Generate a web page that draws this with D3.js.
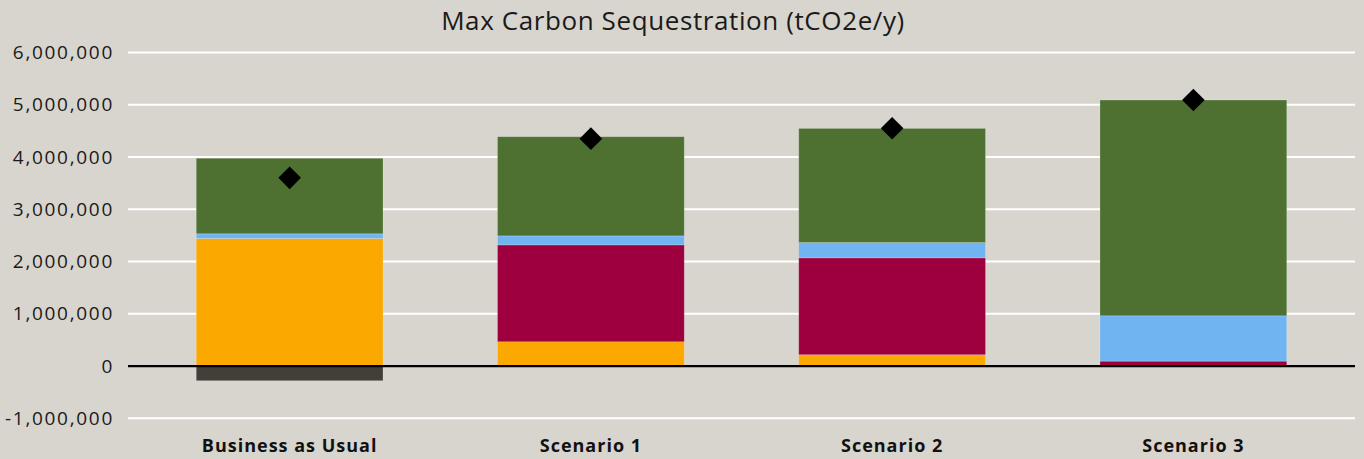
<!DOCTYPE html>
<html>
<head>
<meta charset="utf-8">
<script src="https://cdn.jsdelivr.net/npm/d3@7"></script>
<style>
  html, body { margin: 0; padding: 0; background: #d8d5ce; }
  svg { display: block; font-family: "Open Sans", Lato, sans-serif; }
</style>
</head>
<body>
<svg id="chart"></svg>
<script>
const width = 1364;
const height = 459;

// data (tCO2e/y)
const categories = ["Business as Usual", "Scenario 1", "Scenario 2", "Scenario 3"];
const orange = [2440000, 464000, 216000, 0];
const crimson = [0, 1854000, 1854000, 94000];
const blue = [90000, 172000, 292000, 867000];
const green = [1445000, 1897000, 2184000, 4128000];
const negative = [-281000, 0, 0, 0];
const netTotal = [3600000, 4350000, 4550000, 5090000];
const yTicks = [-1000000, 0, 1000000, 2000000, 3000000, 4000000, 5000000, 6000000];

const seriesList = [
  { name: "orange", values: orange, color: "#fba800" },
  { name: "crimson", values: crimson, color: "#9e003f" },
  { name: "blue", values: blue, color: "#70b4f2" },
  { name: "green", values: green, color: "#4e7132" }
];

const svg = d3.select("#chart")
  .attr("width", width)
  .attr("height", height);

const gridLeft = 128;
const gridRight = 1355;

const x = d3.scaleBand()
  .domain(categories)
  .range([139, 1344])
  .paddingInner(0.38)
  .paddingOuter(0.19);

const y = d3.scaleLinear()
  .domain([-1000000, 6000000])
  .range([418.3, 52.4]);

// plain hyphen for negatives, like the original
const fmt = d3.formatLocale({ decimal: ".", thousands: ",", grouping: [3], currency: ["", ""], minus: "-" }).format(",");

/* ---------------------------
Title
--------------------------- */

svg.append("text")
  .attr("x", 673)
  .attr("y", 29.5)
  .attr("text-anchor", "middle")
  .attr("font-size", 26)
  .attr("font-weight", 400)
  .attr("letter-spacing", 0.6)
  .attr("fill", "#1a1a1a")
  .text("Max Carbon Sequestration (tCO2e/y)");

/* ---------------------------
Grid + y axis
--------------------------- */

svg.append("g")
  .selectAll("line")
  .data(yTicks.filter(t => t !== 0))
  .enter()
  .append("line")
  .attr("x1", gridLeft)
  .attr("x2", gridRight)
  .attr("y1", d => y(d))
  .attr("y2", d => y(d))
  .attr("stroke", "#ffffff")
  .attr("stroke-width", 2);

const yAxis = svg.append("g")
  .attr("transform", `translate(${gridLeft - 14},0)`)
  .call(d3.axisLeft(y).tickValues(yTicks).tickFormat(fmt).tickSize(0).tickPadding(0));

yAxis.select(".domain").remove();
yAxis.selectAll("text")
  .attr("font-size", 19)
  .attr("font-family", "'Open Sans', sans-serif")
  .attr("letter-spacing", 1.7)
  .attr("fill", "#1a1a1a");

/* ---------------------------
Stacked bars
--------------------------- */

const stackRows = categories.map((c, i) => {
  const row = { category: c };
  seriesList.forEach(s => { row[s.name] = s.values[i]; });
  return row;
});

const stacked = d3.stack().keys(seriesList.map(s => s.name))(stackRows);

stacked.forEach((layer, li) => {
  svg.append("g")
    .selectAll("rect")
    .data(layer)
    .enter()
    .append("rect")
    .attr("x", d => x(d.data.category))
    .attr("width", x.bandwidth())
    .attr("y", d => y(d[1]))
    .attr("height", d => Math.max(0, y(d[0]) - y(d[1])))
    .attr("fill", seriesList[li].color)
    .attr("stroke", "rgba(255,255,255,0.25)")
    .attr("stroke-width", 0.8);
});

// negative portion below zero
svg.append("g")
  .selectAll("rect")
  .data(categories.map((c, i) => ({ category: c, value: negative[i] })).filter(d => d.value < 0))
  .enter()
  .append("rect")
  .attr("x", d => x(d.category))
  .attr("width", x.bandwidth())
  .attr("y", y(0))
  .attr("height", d => y(d.value) - y(0))
  .attr("fill", "#423f38")
  .attr("stroke", "rgba(255,255,255,0.25)")
  .attr("stroke-width", 0.8);

// zero line
svg.append("line")
  .attr("x1", gridLeft)
  .attr("x2", gridRight)
  .attr("y1", y(0))
  .attr("y2", y(0))
  .attr("stroke", "#000")
  .attr("stroke-width", 2.2);

/* ---------------------------
Net total markers
--------------------------- */

const diamond = d3.symbol().type(d3.symbolSquare).size(256);

svg.append("g")
  .selectAll("path")
  .data(categories.map((c, i) => ({ category: c, value: netTotal[i] })))
  .enter()
  .append("path")
  .attr("d", diamond)
  .attr("transform", d => `translate(${x(d.category) + x.bandwidth() / 2},${y(d.value)}) rotate(45)`)
  .attr("fill", "#000");

/* ---------------------------
Category labels
--------------------------- */

svg.append("g")
  .selectAll("text")
  .data(categories)
  .enter()
  .append("text")
  .attr("x", d => x(d) + x.bandwidth() / 2)
  .attr("y", 452)
  .attr("text-anchor", "middle")
  .attr("font-size", 18)
  .attr("font-weight", 700)
  .attr("letter-spacing", 1.0)
  .attr("fill", "#111")
  .text(d => d);
</script>
</body>
</html>
